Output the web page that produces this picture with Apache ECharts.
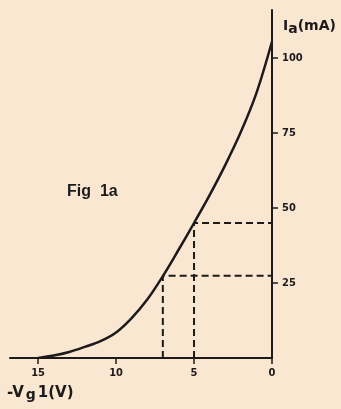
<!DOCTYPE html>
<html>
<head>
<meta charset="utf-8">
<script src="https://cdn.jsdelivr.net/npm/echarts@6/dist/echarts.min.js"></script>
<style>
  html, body { margin: 0; padding: 0; background: #f9e7d1; }
  #chart { width: 341px; height: 409px; }
</style>
</head>
<body>
<div id="chart"></div>
<script>
// -Vg1 (V) and Ia (mA)
const vg = [0, 1, 2, 3, 4, 5, 6, 7, 8, 9, 10, 11, 12, 13, 14, 15];
const ia = [105.5, 88.3, 75.3, 64.3, 54.3, 45, 36, 27.3, 19.5, 13.3, 8.5, 5.6, 3.7, 2.0, 0.8, 0];

// dashed construction lines: grid voltage -> anode current
const guideVg = [7, 5];
const guideIa = [27.4, 45];

const xTicks = [0, 5, 10, 15];
const yTicks = [25, 50, 75, 100];

const ink = '#1c1a1a';
const labelFont = {
    color: ink,
    fontFamily: 'DejaVu Sans Condensed',
    fontWeight: 'bold',
    fontSize: 11,
};

const chart = echarts.init(document.getElementById('chart'));

const guideSeries = guideVg.map((v, i) => ({
    type: 'line',
    data: [[v, 0], [v, guideIa[i]], [0, guideIa[i]]],
    symbol: 'none',
    silent: true,
    lineStyle: { color: ink, width: 2, type: [7, 4] },
    z: 1,
}));

chart.setOption({
    backgroundColor: '#f9e7d1',
    animation: false,
    grid: { left: 10, right: 69, top: 10, bottom: 51 },
    xAxis: {
        type: 'value',
        inverse: true,
        min: 0,
        max: 16.8,
        axisLine: { lineStyle: { color: ink, width: 2 } },
        axisTick: { customValues: xTicks, length: 6, lineStyle: { color: ink, width: 1.5 } },
        axisLabel: { customValues: xTicks, margin: 10, ...labelFont },
        splitLine: { show: false },
    },
    yAxis: {
        type: 'value',
        position: 'right',
        min: 0,
        max: 116,
        axisLine: { show: true, lineStyle: { color: ink, width: 2 } },
        axisTick: { customValues: yTicks, length: 6, lineStyle: { color: ink, width: 1.5 } },
        axisLabel: { customValues: yTicks, margin: 10, ...labelFont },
        splitLine: { show: false },
    },
    graphic: [
        {
            type: 'text', left: 67, top: 184,
            style: { text: 'Fig  1a', fill: ink, font: 'bold 16px "Liberation Sans"' },
        },
        {
            type: 'text', left: 283, top: 19,
            style: {
                text: '{n|I}{s|a}{n|(mA)}',
                rich: {
                    n: { fill: ink, fontFamily: 'DejaVu Sans', fontWeight: 'bold', fontSize: 14 },
                    s: { fill: ink, fontFamily: 'DejaVu Sans', fontWeight: 'bold', fontSize: 14, padding: [6, 0, 0, 0] },
                },
            },
        },
        {
            type: 'text', left: 7, top: 386,
            style: {
                text: '{n|-V}{s|g}{n|1(V)}',
                rich: {
                    n: { fill: ink, fontFamily: 'DejaVu Sans', fontWeight: 'bold', fontSize: 15, padding: [0, 1, 0, 1] },
                    s: { fill: ink, fontFamily: 'DejaVu Sans', fontWeight: 'bold', fontSize: 14, padding: [4, 1, 0, 1] },
                },
            },
        },
    ],
    series: [
        ...guideSeries,
        {
            type: 'line',
            data: vg.map((v, i) => [v, ia[i]]),
            symbol: 'none',
            smooth: 0.35,
            lineStyle: { color: ink, width: 2.5 },
            z: 3,
        },
    ],
});
</script>
</body>
</html>
